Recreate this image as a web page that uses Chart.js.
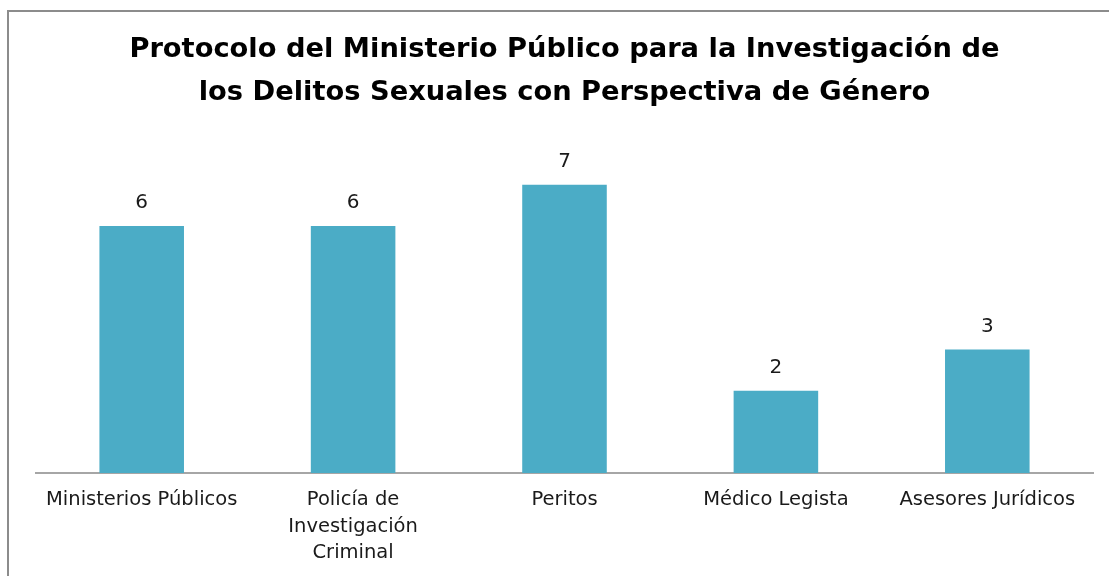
<!DOCTYPE html>
<html>
<head>
<meta charset="utf-8">
<script src="https://cdn.jsdelivr.net/npm/chart.js@4/dist/chart.umd.min.js"></script>
<style>
  html, body { margin: 0; padding: 0; background: #fff; overflow: hidden; }
  #frame { position: absolute; left: 7px; top: 10px; width: 1200px; height: 700px;
           border-left: 2px solid #8c8c8c; border-top: 2px solid #8c8c8c; }
  #wrap { position: absolute; left: 0; top: 0; width: 1109px; height: 582px; }
</style>
</head>
<body>
<div id="frame"></div>
<div id="wrap"><canvas id="chart"></canvas></div>
<script>
const categories = [
  'Ministerios Públicos',
  ['Policía de', 'Investigación', 'Criminal'],
  'Peritos',
  'Médico Legista',
  'Asesores Jurídicos',
];
const values = [6, 6, 7, 2, 3];
const titleLines = [
  'Protocolo del Ministerio Público para la Investigación de',
  'los Delitos Sexuales con Perspectiva de Género',
];

const labelFont = '"DejaVu Sans", sans-serif';

// draws the number above each bar
const valueLabels = {
  id: 'valueLabels',
  afterDatasetsDraw(chart) {
    const { ctx } = chart;
    const meta = chart.getDatasetMeta(0);
    ctx.save();
    ctx.font = '20px ' + labelFont;
    ctx.fillStyle = '#1a1a1a';
    ctx.textAlign = 'center';
    ctx.textBaseline = 'middle';
    meta.data.forEach((bar, i) => {
      ctx.fillText(String(values[i]), bar.x, bar.y - 23);
    });
    ctx.restore();
  },
};

new Chart(document.getElementById('chart'), {
  type: 'bar',
  data: {
    labels: categories,
    datasets: [{
      data: values,
      backgroundColor: '#4BACC6',
      borderWidth: 0,
      barPercentage: 0.4,
      categoryPercentage: 1,
    }],
  },
  options: {
    responsive: true,
    maintainAspectRatio: false,
    animation: false,
    layout: { padding: { left: 36, right: 16, top: 0, bottom: 2 } },
    plugins: {
      legend: { display: false },
      tooltip: { enabled: false },
      title: {
        display: true,
        text: titleLines,
        color: '#000',
        font: { family: labelFont, size: 27.3, weight: 'bold', lineHeight: 1.55 },
        padding: { top: 29, bottom: 30 },
      },
    },
    scales: {
      x: {
        grid: { display: false, drawTicks: false },
        border: { display: true, color: '#a6a6a6', width: 2 },
        ticks: {
          color: '#1a1a1a',
          padding: 14,
          maxRotation: 0,
          autoSkip: false,
          font: { family: labelFont, size: 19.5, lineHeight: 1.35 },
        },
      },
      y: {
        display: false,
        min: 0,
        max: 8,
      },
    },
  },
  plugins: [valueLabels],
});
</script>
</body>
</html>
